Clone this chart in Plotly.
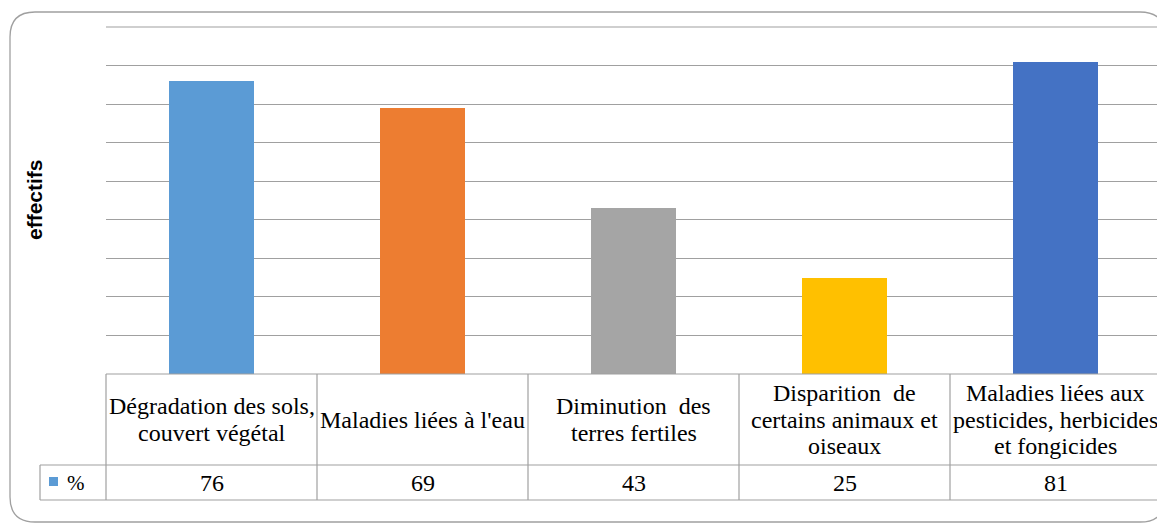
import plotly.graph_objects as go

# ---- data ----
categories = [
    "Dégradation des sols,\ncouvert végétal",
    "Maladies liées à l'eau",
    "Diminution  des\nterres fertiles",
    "Disparition  de\ncertains animaux et\noiseaux",
    "Maladies liées aux\npesticides, herbicides\net fongicides",
]
values = [76, 69, 43, 25, 81]
colors = ["#5B9BD5", "#ED7D31", "#A5A5A5", "#FFC000", "#4472C4"]
series_name = "%"
y_axis_title = "effectifs"
y_max = 90
y_step = 10

# ---- layout geometry (pixels) ----
W, H = 1157, 524
L, R, T, B = 106, 1157, 27, 374
COL_W = 211.0
GRID = "#a0a0a0"
SERIF = "Liberation Serif, Times New Roman, serif"


def px(p):
    return (p - L) / (R - L)


def py(p):
    return (B - p) / (B - T)


n = len(categories)
x_idx = list(range(n))
x_hi = (R - L) / COL_W - 0.5

fig = go.Figure()
fig.add_trace(go.Bar(
    x=x_idx, y=values, marker=dict(color=colors, line=dict(width=0)),
    width=0.403, name=series_name, showlegend=False, hoverinfo="y",
))

shapes = []
annotations = []

# outer rounded frame
left, top, right, bottom, r = 10, 12, 1165, 522, 25
path = (
    f"M {px(left)},{py(top + r)} "
    f"Q {px(left)},{py(top)} {px(left + r)},{py(top)} "
    f"L {px(right - r)},{py(top)} "
    f"Q {px(right)},{py(top)} {px(right)},{py(top + r)} "
    f"L {px(right)},{py(bottom - r)} "
    f"Q {px(right)},{py(bottom)} {px(right - r)},{py(bottom)} "
    f"L {px(left + r)},{py(bottom)} "
    f"Q {px(left)},{py(bottom)} {px(left)},{py(bottom - r)} Z"
)
shapes.append(dict(type="path", xref="paper", yref="paper", path=path,
                   line=dict(color=GRID, width=1.3), layer="below"))

# top gridline (plotly drops gridlines on the plot edge)
shapes.append(dict(type="line", xref="paper", yref="paper", x0=0, x1=1.05,
                   y0=1, y1=1, line=dict(color=GRID, width=1.2)))

# data table lines
row1_top, row1_bot, row2_bot = 374, 465, 500
key_left = 40
line = dict(color=GRID, width=1.2)
shapes.append(dict(type="line", xref="paper", yref="paper", x0=px(L), x1=1.05,
                   y0=py(row1_top), y1=py(row1_top), line=line))
for yy in (row1_bot, row2_bot):
    shapes.append(dict(type="line", xref="paper", yref="paper", x0=px(key_left), x1=1.05,
                       y0=py(yy), y1=py(yy), line=line))
shapes.append(dict(type="line", xref="paper", yref="paper", x0=px(key_left), x1=px(key_left),
                   y0=py(row1_bot), y1=py(row2_bot), line=line))
for i in range(n + 1):
    xb = L + i * COL_W
    shapes.append(dict(type="line", xref="paper", yref="paper", x0=px(xb), x1=px(xb),
                       y0=py(row1_top), y1=py(row2_bot), line=line))

# legend key square
shapes.append(dict(type="rect", xref="paper", yref="paper", x0=px(49), x1=px(58),
                   y0=py(486), y1=py(477), fillcolor=colors[0], line=dict(width=0)))

# header texts
row1_mid = (row1_top + row1_bot) / 2
LINE_H = 26.5
for i, cat in enumerate(categories):
    parts = cat.split("\n")
    m = len(parts)
    for j, part in enumerate(parts):
        yc = row1_mid + (j - (m - 1) / 2) * LINE_H
        annotations.append(dict(
            x=i, xref="x", y=py(yc), yref="paper", text=part.replace("  ", "&nbsp; "),
            showarrow=False, xanchor="center", yanchor="middle",
            font=dict(family=SERIF, size=24, color="black"),
        ))

# value row
row2_mid = (row1_bot + row2_bot) / 2
for i, v in enumerate(values):
    annotations.append(dict(
        x=i, xref="x", y=py(row2_mid), yref="paper", text=str(v),
        showarrow=False, xanchor="center", yanchor="middle",
        font=dict(family=SERIF, size=24, color="black"),
    ))
annotations.append(dict(
    x=px(65), xref="paper", y=py(row2_mid), yref="paper", text=series_name,
    showarrow=False, xanchor="left", yanchor="middle",
    font=dict(family=SERIF, size=21, color="black"),
))

# y axis title
annotations.append(dict(
    x=px(34), xref="paper", y=py(200), yref="paper", text=f"<b>{y_axis_title}</b>",
    showarrow=False, textangle=-90, xanchor="center", yanchor="middle",
    font=dict(family="Liberation Sans, Arial, sans-serif", size=21, color="black"),
))

fig.update_layout(
    width=W, height=H,
    margin=dict(l=L, r=W - R, t=T, b=H - B, pad=0),
    paper_bgcolor="white", plot_bgcolor="rgba(0,0,0,0)",
    bargap=0,
    xaxis=dict(range=[-0.5, x_hi], showticklabels=False, showgrid=False,
               zeroline=False, showline=False, ticks=""),
    yaxis=dict(range=[0, y_max], dtick=y_step, tick0=0, showticklabels=False,
               showgrid=True, gridcolor=GRID, gridwidth=1.2, zeroline=False,
               showline=False, ticks=""),
    shapes=shapes, annotations=annotations,
)

fig.write_html("out.html", config={"displayModeBar": False},
               post_script="document.body.style.margin='0px';")
